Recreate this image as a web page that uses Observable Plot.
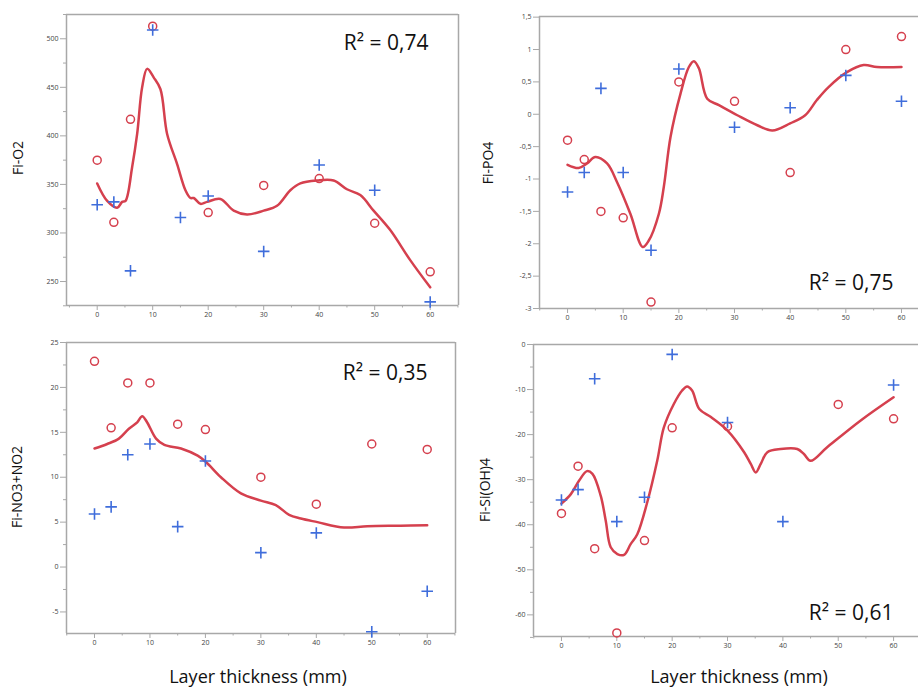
<!DOCTYPE html>
<html><head><meta charset="utf-8">
<script src="https://cdn.jsdelivr.net/npm/d3@7"></script>
<script src="https://cdn.jsdelivr.net/npm/@observablehq/plot@0.6"></script>
<style>
html,body{margin:0;padding:0;background:#fff;overflow:hidden;}
#root{position:relative;width:918px;height:690px;overflow:hidden;font-family:"Open Sans",sans-serif;}
.panel{position:absolute;}
.panel svg{background:transparent;overflow:visible;}
.xtitle{position:absolute;font-size:18px;line-height:20px;color:#111;transform:translateX(-50%);white-space:nowrap;}
.ytitle{position:absolute;font-size:14px;line-height:16px;color:#111;transform:translate(-50%,-50%) rotate(-90deg);white-space:nowrap;}
</style></head><body><div id="root"></div>
<script>
// Layer thickness (mm) of the samples
const thickness = [0, 3, 6, 10, 15, 20, 30, 40, 50, 60];

// Fi-O2
const o2Circle = [375, 311, 417, 513, null, 321, 349, 356, 310, 260];
const o2Plus   = [329, 332, 261, 509, 316, 338, 281, 370, 344, 229];
const o2FitX = [0, 1.8, 3.6, 4.5, 5.1, 6.3, 7.2, 8.1, 9.0, 10.2, 11.4, 12.6, 14.4, 15.9, 16.8, 17.4, 18.6, 19.8, 22.2, 24.6, 27, 30, 32.4, 34.8, 36.6, 39.6, 42.6, 45, 47.4, 49.8, 52.8, 56.4, 60];
const o2FitY = [351, 333, 326, 332, 333, 368, 402, 450, 469, 460, 448, 402, 371, 344, 336, 336, 330, 332, 335, 323, 319, 323, 328, 344, 351, 354, 354, 345, 339, 323, 303, 272, 244];

// Fi-PO4
const po4Circle = [-0.4, -0.7, -1.5, -1.6, -2.9, 0.5, 0.2, -0.9, 1.0, 1.2];
const po4Plus   = [-1.2, -0.9, 0.4, -0.9, -2.1, 0.7, -0.2, 0.1, 0.6, 0.2];
const po4FitX = [0, 2, 3.5, 5, 7.1, 8.9, 11.3, 13.5, 14.6, 16.4, 17.3, 18.5, 20.3, 21.8, 22.7, 23.6, 25.1, 27.2, 30.5, 34.1, 36.8, 40, 42.7, 44.8, 46.9, 50.2, 53.2, 55.6, 60];
const po4FitY = [-0.78, -0.83, -0.76, -0.66, -0.76, -1.05, -1.54, -2.05, -1.95, -1.54, -1.12, -0.35, 0.32, 0.73, 0.82, 0.71, 0.24, 0.14, -0.015, -0.17, -0.25, -0.14, -0.015, 0.22, 0.42, 0.65, 0.76, 0.73, 0.73];

// Fi-NO3+NO2
const no3Circle = [22.9, 15.5, 20.5, 20.5, 15.9, 15.3, 10, 7, 13.7, 13.1];
const no3Plus   = [5.9, 6.7, 12.5, 13.7, 4.5, 11.8, 1.6, 3.8, -7.2, -2.7];
const no3FitX = [0, 2.3, 4.4, 6.2, 7.7, 8.6, 9.5, 11.1, 12.6, 15.6, 18.6, 20.1, 22.8, 26.4, 30, 32.7, 35.1, 37.2, 40.2, 45, 49.2, 55.2, 60];
const no3FitY = [13.2, 13.7, 14.3, 15.4, 16.1, 16.8, 16.1, 14.3, 13.6, 13.2, 12.4, 11.7, 10.0, 8.2, 7.4, 6.9, 5.8, 5.4, 5.0, 4.4, 4.55, 4.6, 4.65];

// Fi-Si(OH)4
const siCircle = [-37.5, -27, -45.3, -64, -43.5, -18.5, -18.2, null, -13.3, -16.5];
const siPlus   = [-34.5, -32.2, -7.6, -39.3, -33.9, -2.2, -17.3, -39.3, null, -9.0];
const siFitX = [0, 1.7, 3.2, 4.6, 5.6, 7.1, 8.0, 8.9, 10.1, 11.3, 12.5, 13.7, 15.5, 17.3, 18.5, 20.3, 21.8, 22.7, 23.6, 24.9, 27, 30, 33, 34.2, 35.1, 36, 37.2, 39.6, 42.6, 43.8, 45, 48, 54, 60];
const siFitY = [-35.3, -33.2, -30.2, -28.1, -28.7, -33.6, -39.1, -45.0, -46.5, -46.7, -44.3, -42.1, -35.0, -25.8, -18.4, -13.2, -10.2, -9.3, -10.2, -14.3, -16.1, -19.1, -23.9, -26.5, -28.4, -26.5, -23.9, -23.2, -23.2, -24.3, -25.8, -22.8, -16.9, -11.7];

// Tick labels
const xMajorTicks = [0, 10, 20, 30, 40, 50, 60];
const xMinorTicks = [-5, 5, 15, 25, 35, 45, 55, 65];
const o2Ticks = [250, 300, 350, 400, 450, 500];
const o2Minor = [225, 275, 325, 375, 425, 475, 525];
const po4Ticks = [-3, -2.5, -2, -1.5, -1, -0.5, 0, 0.5, 1, 1.5];
const po4Minor = [];
const no3Ticks = [-5, 0, 5, 10, 15, 20, 25];
const no3Minor = [-2.5, 2.5, 7.5, 12.5, 17.5, 22.5];
const siTicks = [-60, -50, -40, -30, -20, -10, 0];
const siMinor = [-65, -55, -45, -35, -25, -15, -5];

const yLabels = ["Fi-O2", "Fi-PO4", "Fi-NO3+NO2", "Fi-Si(OH)4"];
const r2Labels = ["R² = 0,74", "R² = 0,75", "R² = 0,35", "R² = 0,61"];
const xTitle = "Layer thickness (mm)";

const RED = "#d5404e", BLUE = "#3f6ddb", AXIS = "#a8a8a8";
const fmt = d => String(d).replace(".", ",");
const root = document.getElementById("root");

function panel(o) {
  const marks = [
    Plot.ruleY([o.yDomain[0]], {stroke: AXIS, strokeWidth: 1.5}),
    Plot.ruleY([o.yDomain[1]], {stroke: AXIS, strokeWidth: 1.5}),
    Plot.ruleX([o.xDomain[0]], {stroke: AXIS, strokeWidth: 1.5}),
  ];
  if (o.rightFrame) marks.push(Plot.ruleX([o.xDomain[1]], {stroke: AXIS, strokeWidth: 1.5}));
  marks.push(
    Plot.axisX(xMajorTicks, {tickSize: 5, tickPadding: 2, stroke: AXIS, fill: "#444", label: null, fontSize: 7}),
    Plot.axisX(xMinorTicks.filter(t => t >= o.xDomain[0] && t <= o.xDomain[1]), {tickSize: 2.5, text: null, stroke: AXIS, label: null}),
    Plot.axisY(o.yTicks, {tickSize: 6, tickPadding: 2, stroke: AXIS, fill: "#444", label: null, tickFormat: fmt, fontSize: 7}),
    Plot.axisY(o.yMinor, {tickSize: 3, text: null, stroke: AXIS, label: null}),
    Plot.line(o.fitX, {x: o.fitX, y: o.fitY, curve: "catmull-rom", stroke: RED, strokeWidth: 2.5}),
    Plot.dot(thickness, {x: d => d, y: o.circles, symbol: "circle", r: 4, stroke: RED, strokeWidth: 1.5, fill: "none"}),
    Plot.dot(thickness, {x: d => d, y: o.pluses, symbol: "plus", r: 3.8, stroke: BLUE, strokeWidth: 1.6, fill: "none"}),
    Plot.text([o.r2], {text: d => d, frameAnchor: o.r2Anchor, dx: o.r2dx, dy: o.r2dy, textAnchor: "end", lineAnchor: "middle", fontSize: 21, fill: "#111", fontFamily: "Open Sans"})
  );
  const chart = Plot.plot({
    width: o.width, height: o.height,
    marginLeft: o.ml, marginRight: o.mr, marginTop: o.mt, marginBottom: o.mb,
    x: {domain: o.xDomain, label: null},
    y: {domain: o.yDomain, label: null},
    style: {fontFamily: "Open Sans", fontSize: "7px", background: "transparent", overflow: "visible"},
    marks
  });
  const div = document.createElement("div");
  div.className = "panel";
  div.style.left = o.left + "px";
  div.style.top = o.top + "px";
  div.appendChild(chart);
  root.appendChild(div);
}

panel({left: 0, top: 0, width: 460, height: 330, ml: 66, mr: 2, mt: 14, mb: 25,
  xDomain: [-5.53, 65.1], yDomain: [225.3, 525], yTicks: o2Ticks, yMinor: o2Minor,
  circles: o2Circle, pluses: o2Plus, fitX: o2FitX, fitY: o2FitY, rightFrame: true,
  r2: r2Labels[0], r2Anchor: "top-right", r2dx: -30, r2dy: 29});
panel({left: 460, top: 0, width: 458, height: 330, ml: 79, mr: 0, mt: 16, mb: 22,
  xDomain: [-5.04, 63.06], yDomain: [-3, 1.51], yTicks: po4Ticks, yMinor: po4Minor,
  circles: po4Circle, pluses: po4Plus, fitX: po4FitX, fitY: po4FitY, rightFrame: false,
  r2: r2Labels[1], r2Anchor: "bottom-right", r2dx: -25, r2dy: -25});
panel({left: 0, top: 330, width: 460, height: 360, ml: 66, mr: 5, mt: 12, mb: 57,
  xDomain: [-5.05, 65.1], yDomain: [-7.4, 25], yTicks: no3Ticks, yMinor: no3Minor,
  circles: no3Circle, pluses: no3Plus, fitX: no3FitX, fitY: no3FitY, rightFrame: true,
  r2: r2Labels[2], r2Anchor: "top-right", r2dx: -28, r2dy: 31});
panel({left: 460, top: 330, width: 458, height: 360, ml: 73, mr: 0, mt: 14, mb: 54,
  xDomain: [-5.05, 64.5], yDomain: [-64.8, 0], yTicks: siTicks, yMinor: siMinor,
  circles: siCircle, pluses: siPlus, fitX: siFitX, fitY: siFitY, rightFrame: false,
  r2: r2Labels[3], r2Anchor: "bottom-right", r2dx: -25, r2dy: -23});

// Axis titles
const yPos = [[18, 158], [488, 163], [17, 487], [485, 490]];
yLabels.forEach((t, i) => {
  const d = document.createElement("div");
  d.className = "ytitle";
  d.textContent = t;
  d.style.left = yPos[i][0] + "px";
  d.style.top = yPos[i][1] + "px";
  root.appendChild(d);
});
[[258, 666], [739, 666]].forEach(([x, y]) => {
  const d = document.createElement("div");
  d.className = "xtitle";
  d.textContent = xTitle;
  d.style.left = x + "px";
  d.style.top = y + "px";
  root.appendChild(d);
});
</script></body></html>
